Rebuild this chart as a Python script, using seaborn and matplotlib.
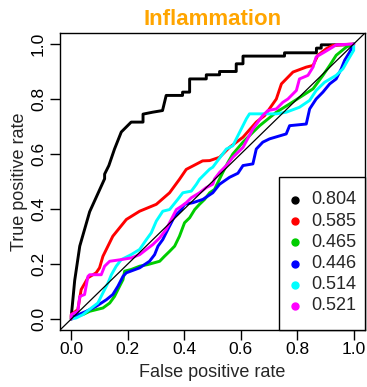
import matplotlib
matplotlib.use("Agg")
import matplotlib.pyplot as plt
from matplotlib.patches import Rectangle
import seaborn as sns
import pandas as pd

title = "Inflammation"
auc_labels = ["0.804", "0.585", "0.465", "0.446", "0.514", "0.521"]
colors = ["#000000", "#FF0000", "#00CD00", "#0000FF", "#00FFFF", "#FF00FF"]
tick_vals = [0.0, 0.2, 0.4, 0.6, 0.8, 1.0]
tick_labels = ["0.0", "0.2", "0.4", "0.6", "0.8", "1.0"]

black_fpr = [0, 0, 0.012, 0.03, 0.065, 0.118, 0.118, 0.133, 0.153, 0.177, 0.212, 0.254, 0.254, 0.288, 0.323, 0.336, 0.394, 0.394, 0.419, 0.419, 0.478, 0.478, 0.525, 0.525, 0.584, 0.584, 0.608, 0.608, 0.755, 0.755, 0.868, 0.868, 0.885, 0.885, 0.997, 1.0]
black_tpr = [0, 0.01, 0.14, 0.265, 0.39, 0.51, 0.527, 0.558, 0.618, 0.68, 0.716, 0.716, 0.745, 0.752, 0.758, 0.813, 0.813, 0.825, 0.825, 0.873, 0.873, 0.888, 0.888, 0.9, 0.9, 0.928, 0.928, 0.956, 0.956, 0.968, 0.968, 0.985, 0.985, 0.997, 0.997, 1.0]

red_fpr = [0, 0, 0.023, 0.035, 0.059, 0.088, 0.1, 0.112, 0.147, 0.195, 0.242, 0.301, 0.348, 0.383, 0.407, 0.465, 0.49, 0.525, 0.56, 0.608, 0.655, 0.685, 0.726, 0.744, 0.785, 0.832, 0.856, 0.873, 0.903, 0.926, 1.0]
red_tpr = [0, 0.016, 0.034, 0.107, 0.15, 0.168, 0.186, 0.228, 0.301, 0.362, 0.392, 0.417, 0.459, 0.508, 0.544, 0.575, 0.576, 0.588, 0.624, 0.661, 0.716, 0.74, 0.8, 0.855, 0.898, 0.916, 0.922, 0.959, 0.983, 0.995, 1.0]

green_fpr = [0, 0.006, 0.041, 0.065, 0.112, 0.136, 0.153, 0.171, 0.183, 0.189, 0.212, 0.242, 0.271, 0.313, 0.33, 0.348, 0.366, 0.383, 0.401, 0.419, 0.437, 0.454, 0.472, 0.49, 0.507, 0.535, 0.555, 0.572, 0.608, 0.643, 0.667, 0.726, 0.773, 0.82, 0.856, 0.891, 0.915, 0.938, 0.974, 1.0]
green_tpr = [0, 0.01, 0.016, 0.028, 0.04, 0.058, 0.082, 0.119, 0.143, 0.174, 0.18, 0.192, 0.198, 0.21, 0.228, 0.246, 0.265, 0.301, 0.35, 0.368, 0.398, 0.417, 0.435, 0.459, 0.471, 0.53, 0.57, 0.6, 0.643, 0.679, 0.703, 0.752, 0.782, 0.813, 0.837, 0.886, 0.922, 0.959, 0.989, 1.0]

blue_fpr = [0, 0.012, 0.053, 0.088, 0.124, 0.147, 0.165, 0.183, 0.195, 0.242, 0.277, 0.295, 0.307, 0.324, 0.342, 0.366, 0.39, 0.401, 0.431, 0.466, 0.501, 0.525, 0.56, 0.59, 0.608, 0.643, 0.655, 0.678, 0.702, 0.761, 0.773, 0.832, 0.844, 0.867, 0.891, 0.915, 0.938, 0.956, 0.968, 0.986, 1.0]
blue_tpr = [0, 0.01, 0.028, 0.046, 0.07, 0.089, 0.119, 0.155, 0.168, 0.186, 0.21, 0.234, 0.265, 0.289, 0.326, 0.374, 0.398, 0.417, 0.423, 0.435, 0.459, 0.49, 0.515, 0.53, 0.558, 0.564, 0.618, 0.643, 0.655, 0.673, 0.703, 0.709, 0.764, 0.8, 0.825, 0.855, 0.873, 0.91, 0.941, 0.971, 1.0]

cyan_fpr = [0, 0.018, 0.041, 0.071, 0.094, 0.112, 0.13, 0.142, 0.159, 0.177, 0.212, 0.242, 0.266, 0.283, 0.301, 0.324, 0.348, 0.377, 0.395, 0.425, 0.443, 0.454, 0.49, 0.501, 0.549, 0.572, 0.596, 0.62, 0.631, 0.726, 0.761, 0.808, 0.844, 0.867, 0.897, 0.938, 0.962, 0.979, 1.0, 1.0]
cyan_tpr = [0, 0.004, 0.016, 0.04, 0.058, 0.095, 0.131, 0.161, 0.192, 0.216, 0.234, 0.253, 0.289, 0.313, 0.356, 0.392, 0.398, 0.435, 0.459, 0.465, 0.49, 0.508, 0.545, 0.552, 0.618, 0.63, 0.679, 0.728, 0.746, 0.746, 0.752, 0.77, 0.795, 0.831, 0.861, 0.886, 0.91, 0.941, 0.977, 1.0]

magenta_fpr = [0, 0, 0.023, 0.03, 0.047, 0.059, 0.065, 0.106, 0.118, 0.136, 0.177, 0.212, 0.242, 0.266, 0.289, 0.313, 0.336, 0.354, 0.372, 0.39, 0.407, 0.425, 0.454, 0.478, 0.501, 0.507, 0.525, 0.549, 0.572, 0.608, 0.643, 0.678, 0.696, 0.726, 0.749, 0.767, 0.797, 0.808, 0.838, 0.856, 0.867, 0.897, 0.926, 0.938, 1.0]
magenta_tpr = [0, 0.016, 0.028, 0.082, 0.089, 0.155, 0.161, 0.161, 0.192, 0.21, 0.216, 0.222, 0.234, 0.253, 0.271, 0.295, 0.326, 0.362, 0.398, 0.41, 0.423, 0.441, 0.459, 0.478, 0.49, 0.509, 0.533, 0.558, 0.588, 0.624, 0.691, 0.74, 0.758, 0.764, 0.788, 0.8, 0.831, 0.873, 0.886, 0.916, 0.953, 0.971, 0.989, 0.997, 1.0]

curves = [(black_fpr, black_tpr), (red_fpr, red_tpr), (green_fpr, green_tpr),
          (blue_fpr, blue_tpr), (cyan_fpr, cyan_tpr), (magenta_fpr, magenta_tpr)]

rows = []
for lab, (fx, ty) in zip(auc_labels, curves):
    for i, (a, b) in enumerate(zip(fx, ty)):
        rows.append({"auc": lab, "order": i, "fpr": a, "tpr": b})
df = pd.DataFrame(rows)

sns.set_style("ticks")
plt.rcParams["font.family"] = ["Liberation Sans", "DejaVu Sans"]

W, H = 367, 387
fig = plt.figure(figsize=(W / 100, H / 100), dpi=100)
ax_l, ax_r, ax_t, ax_b = 60, 365, 33, 330
ax = fig.add_axes([ax_l / W, 1 - ax_b / H, (ax_r - ax_l) / W, (ax_b - ax_t) / H])

sns.lineplot(data=df, x="fpr", y="tpr", hue="auc", hue_order=auc_labels,
             palette=colors, sort=False, estimator=None, units="auc",
             linewidth=2.1, legend=False, ax=ax)
ax.axline((0, 0), (1, 1), color="black", linewidth=0.9, zorder=5)

ax.set_xlim(-0.04, 1.04)
ax.set_ylim(-0.04, 1.04)
ax.set_xticks(tick_vals)
ax.set_xticklabels(tick_labels)
ax.set_yticks(tick_vals)
ax.set_yticklabels(tick_labels)
ax.tick_params(axis="both", direction="out", length=7.5, width=1.0,
               labelsize=12.5, color="black", labelcolor="black", pad=2.5)
ax.tick_params(axis="x", pad=1.5)
for lbl in ax.get_yticklabels():
    lbl.set_rotation(90)
    lbl.set_va("center")
for sp in ax.spines.values():
    sp.set_visible(True)
    sp.set_color("black")
    sp.set_linewidth(1.0)

ax.set_xlabel("False positive rate", fontsize=13, labelpad=5)
ax.set_ylabel("True positive rate", fontsize=13, labelpad=2)
ax.set_title(title, color="#FFA500", fontsize=16, fontweight="bold", pad=6)

# legend box (bottom-right, R style)
def fx_(px):
    return (px - ax_l) / (ax_r - ax_l)

def fy_(py):
    return (ax_b - py) / (ax_b - ax_t)

box_left, box_top = 279, 177
ax.add_patch(Rectangle((fx_(box_left), 0), 1 - fx_(box_left), fy_(box_top),
                       transform=ax.transAxes, facecolor="white",
                       edgecolor="black", linewidth=1.0, zorder=10,
                       clip_on=False))
for i, (lab, c) in enumerate(zip(auc_labels, colors)):
    yc = fy_(200 + 21.2 * i)
    ax.plot([fx_(295)], [yc], marker="o", markersize=5, color=c,
            linestyle="none", transform=ax.transAxes, zorder=11, clip_on=False)
    ax.text(fx_(311), yc, lab, transform=ax.transAxes, fontsize=13,
            ha="left", va="center", zorder=11)

fig.savefig("out.png", dpi=100)
